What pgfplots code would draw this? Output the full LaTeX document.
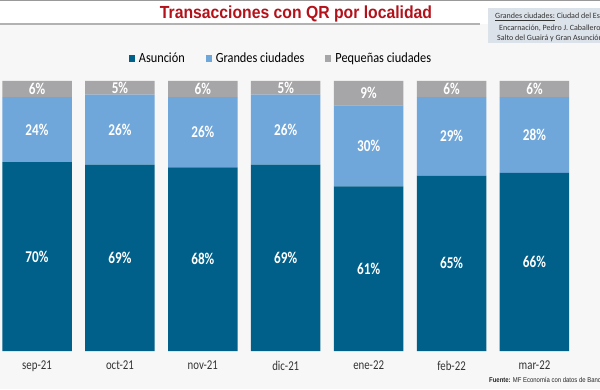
\documentclass[border=0pt]{standalone}
\usepackage{pgfplots}
\pgfplotsset{compat=1.18}
\usepackage{pgfplotstable}
\usepackage{fontspec}
\setmainfont{Carlito}
\newfontfamily\condfont[FakeStretch=0.8]{Carlito}
\newfontfamily\legfont[FakeStretch=0.88]{Carlito}
\newfontfamily\titlefont[FakeStretch=0.9]{Liberation Sans}
\newfontfamily\narrowfont[FakeStretch=0.85]{Liberation Sans}
\definecolor{asu}{HTML}{00608A}
\definecolor{gra}{HTML}{70A7DA}
\definecolor{peq}{HTML}{A6A6A8}
\definecolor{bgc}{HTML}{F7F7F7}
\definecolor{titc}{HTML}{B3121B}
\definecolor{boxc}{HTML}{DCE2EA}
\pgfplotstableread{
x A G P
0 70 24 6
1 69 26 5
2 68 26 6
3 69 26 5
4 61 30 9
5 65 29 6
6 66 28 6
}\data
\begin{document}
\begin{tikzpicture}
\useasboundingbox (0pt,0pt) rectangle (600pt,389pt);
\fill[bgc] (0pt,0pt) rectangle (600pt,389pt);
\fill[white] (0pt,365pt) rectangle (600pt,389pt);
\draw[gray!80, line width=1.5pt] (0pt,388.3pt) -- (600pt,388.3pt);
\draw[gray!60, line width=1.2pt] (0pt,365pt) -- (480pt,365pt);
\node[text=titc, font=\titlefont\bfseries\fontsize{17.5}{20}\selectfont] at (296pt,375pt) {Transacciones con QR por localidad};
\fill[boxc] (488pt,346pt) rectangle (610pt,381pt);
\node[anchor=west, inner sep=0pt, font=\fontsize{8}{10}\selectfont, text=black!80] at (495pt,372pt) {\underline{Grandes ciudades:} Ciudad del Este,};
\node[anchor=west, inner sep=0pt, font=\fontsize{8}{10}\selectfont, text=black!80] at (499pt,361pt) {Encarnación, Pedro J. Caballero,};
\node[anchor=west, inner sep=0pt, font=\fontsize{8}{10}\selectfont, text=black!80] at (497pt,351pt) {Salto del Guairá y Gran Asunción};
\node[anchor=west, inner sep=0pt, font=\narrowfont\fontsize{7}{8}\selectfont, text=black!85] at (489pt,8pt) {\textbf{Fuente:} MF Economía con datos de Banco Central del Paraguay};
\begin{axis}[
  at={(37pt,38pt)}, anchor=origin, scale only axis,
  width=572.1pt, height=270pt,
  xmin=-0.45, xmax=6.45, ymin=0, ymax=100,
  ybar stacked, bar width=69.5pt,
  axis line style={draw=none}, major tick length=0pt,
  ytick=\empty, xtick={0,...,6},
  xticklabels={sep-21,oct-21,nov-21,dic-21,ene-22,feb-22,mar-22},
  xticklabel style={font=\condfont\fontsize{13.5}{15}\selectfont, text=black!80, yshift=-6.5pt},
  legend style={at={(0.4917,1.085)}, anchor=center, draw=none, fill=none,
    legend columns=3, font=\legfont\fontsize{14}{16}\selectfont,
    /tikz/every even column/.append style={column sep=19pt}},
  legend image code/.code={\fill[#1] (0pt,-3.5pt) rectangle (6pt,3.5pt); \path (8pt,0pt);},
]
\addplot[fill=asu, draw=none] table[x=x, y=A] {\data};
\addplot[fill=gra, draw=none] table[x=x, y=G] {\data};
\addplot[fill=peq, draw=none] table[x=x, y=P] {\data};
\legend{Asunción, Grandes ciudades, Pequeñas ciudades}
\end{axis}
\begin{axis}[
  at={(37pt,38pt)}, anchor=origin, scale only axis,
  width=572.1pt, height=270pt,
  xmin=-0.45, xmax=6.45, ymin=0, ymax=100,
  hide axis,
  /pgf/number format/assume math mode=true,
  nodes near coords={\pgfmathprintnumber{\pgfplotspointmeta}\%},
  every node near coord/.style={anchor=center, text=white, font=\condfont\bfseries\fontsize{16.5}{18}\selectfont},
]
\addplot[draw=none, mark=none, point meta=\thisrow{A}] table[x=x, y expr=\thisrow{A}/2] {\data};
\addplot[draw=none, mark=none, point meta=\thisrow{G}] table[x=x, y expr=\thisrow{A}+\thisrow{G}/2] {\data};
\addplot[draw=none, mark=none, point meta=\thisrow{P}] table[x=x, y expr=\thisrow{A}+\thisrow{G}+\thisrow{P}/2] {\data};
\end{axis}
\end{tikzpicture}
\end{document}
